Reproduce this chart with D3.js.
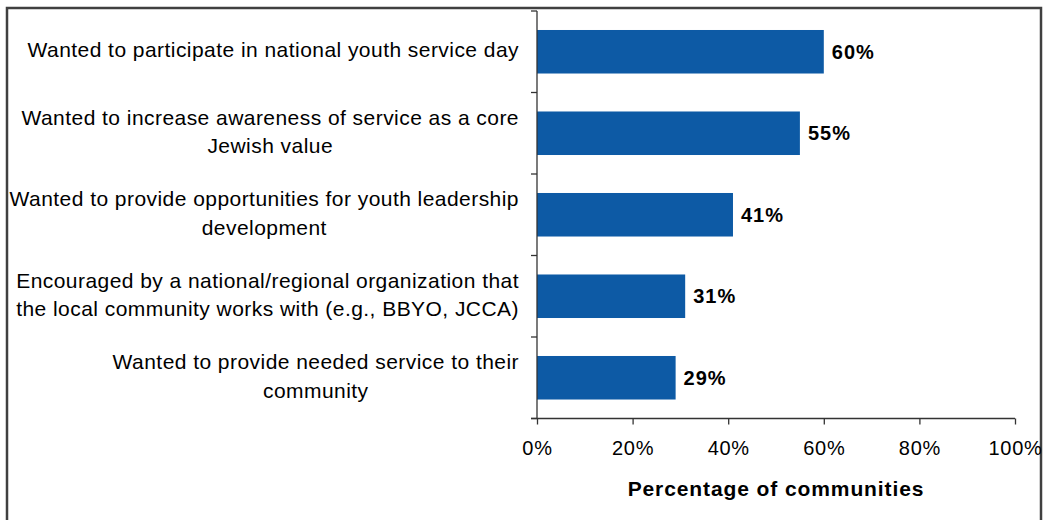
<!DOCTYPE html>
<html>
<head>
<meta charset="utf-8">
<script src="https://cdn.jsdelivr.net/npm/d3@7"></script>
<style>
  html, body { margin: 0; padding: 0; background: #fff; }
  svg { display: block; font-family: "Liberation Sans", Arial, sans-serif; }
</style>
</head>
<body>
<svg id="chart" width="1050" height="520"></svg>
<script>
// Reasons communities gave for taking part
const reasons = [
  ["Wanted to participate in national youth service day"],
  ["Wanted to increase awareness of service as a core", "Jewish value"],
  ["Wanted to provide opportunities for youth leadership", "development"],
  ["Encouraged by a national/regional organization that", "the local community works with (e.g., BBYO, JCCA)"],
  ["Wanted to provide needed service to their", "community"]
];
const shares = [60, 55, 41, 31, 29];
const xTicks = [0, 20, 40, 60, 80, 100];
const xTitle = "Percentage of communities";

(function () {
  const svg = d3.select("#chart");

  // outer frame
  svg.append("rect")
    .attr("x", 7).attr("y", 8).attr("width", 1034).attr("height", 520)
    .attr("fill", "none").attr("stroke", "#404040").attr("stroke-width", 2.5);

  const plotL = 537, plotR = 1015, plotT = 11, plotB = 418.5;

  const x = d3.scaleLinear().domain([0, 100]).range([plotL, plotR]);
  const y = d3.scaleBand().domain(d3.range(reasons.length)).range([plotT, plotB])
    .paddingInner(0.466).paddingOuter(0.233);

  // bars
  svg.append("g").selectAll("rect").data(shares).join("rect")
    .attr("x", x(0))
    .attr("y", (d, i) => y(i))
    .attr("width", d => x(d) - x(0))
    .attr("height", y.bandwidth())
    .attr("fill", "#0d5aa5");

  // value labels
  svg.append("g").selectAll("text").data(shares).join("text")
    .attr("x", d => x(d) + 8)
    .attr("y", (d, i) => y(i) + y.bandwidth() / 2)
    .attr("dy", "0.36em")
    .attr("font-size", 20)
    .attr("letter-spacing", 1)
    .attr("font-weight", "bold")
    .attr("fill", "#000")
    .text(d => d + "%");

  // category axis (boundary ticks)
  const yAxis = svg.append("g");
  yAxis.append("line")
    .attr("x1", plotL).attr("x2", plotL).attr("y1", plotT).attr("y2", plotB)
    .attr("stroke", "#333").attr("stroke-width", 1.3);
  const step = (plotB - plotT) / reasons.length;
  yAxis.selectAll("line.tk").data(d3.range(reasons.length + 1)).join("line")
    .attr("class", "tk")
    .attr("x1", plotL - 6).attr("x2", plotL)
    .attr("y1", i => plotT + i * step).attr("y2", i => plotT + i * step)
    .attr("stroke", "#333").attr("stroke-width", 1.3);

  // category labels: block right-aligned, lines centred within block
  const lineGap = 28.5;
  const labelG = svg.append("g").attr("font-size", 21).attr("letter-spacing", 0.45).attr("fill", "#000");
  reasons.forEach((lines, i) => {
    const g = labelG.append("g");
    const cy = y(i) + y.bandwidth() / 2 - 2;
    const texts = lines.map((t, k) => g.append("text")
      .attr("y", cy + (k - (lines.length - 1) / 2) * lineGap)
      .attr("dy", "0.36em")
      .attr("text-anchor", "middle")
      .text(t));
    const widths = texts.map(t => t.node().getComputedTextLength());
    const blockW = d3.max(widths);
    const cx = 519 - blockW / 2;
    texts.forEach(t => t.attr("x", cx));
  });

  // value axis
  const xAxis = d3.axisBottom(x).tickValues(xTicks).tickFormat(d => d + "%").tickSize(6).tickPadding(16);
  const xg = svg.append("g").attr("transform", `translate(0,${plotB})`).call(xAxis);
  xg.select(".domain").attr("stroke", "#333").attr("stroke-width", 1.3)
    .attr("d", `M${plotL - 6},0H${plotR}`);
  xg.selectAll(".tick line").attr("stroke", "#333").attr("stroke-width", 1.3);
  xg.selectAll(".tick text").attr("font-size", 20).attr("letter-spacing", 0.7).attr("fill", "#000")
    .attr("font-family", "Liberation Sans, Arial, sans-serif");

  svg.append("text")
    .attr("x", (plotL + plotR) / 2)
    .attr("y", 488)
    .attr("dy", "0.36em")
    .attr("text-anchor", "middle")
    .attr("font-size", 21)
    .attr("letter-spacing", 0.9)
    .attr("font-weight", "bold")
    .attr("fill", "#000")
    .text(xTitle);
})();
</script>
</body>
</html>
